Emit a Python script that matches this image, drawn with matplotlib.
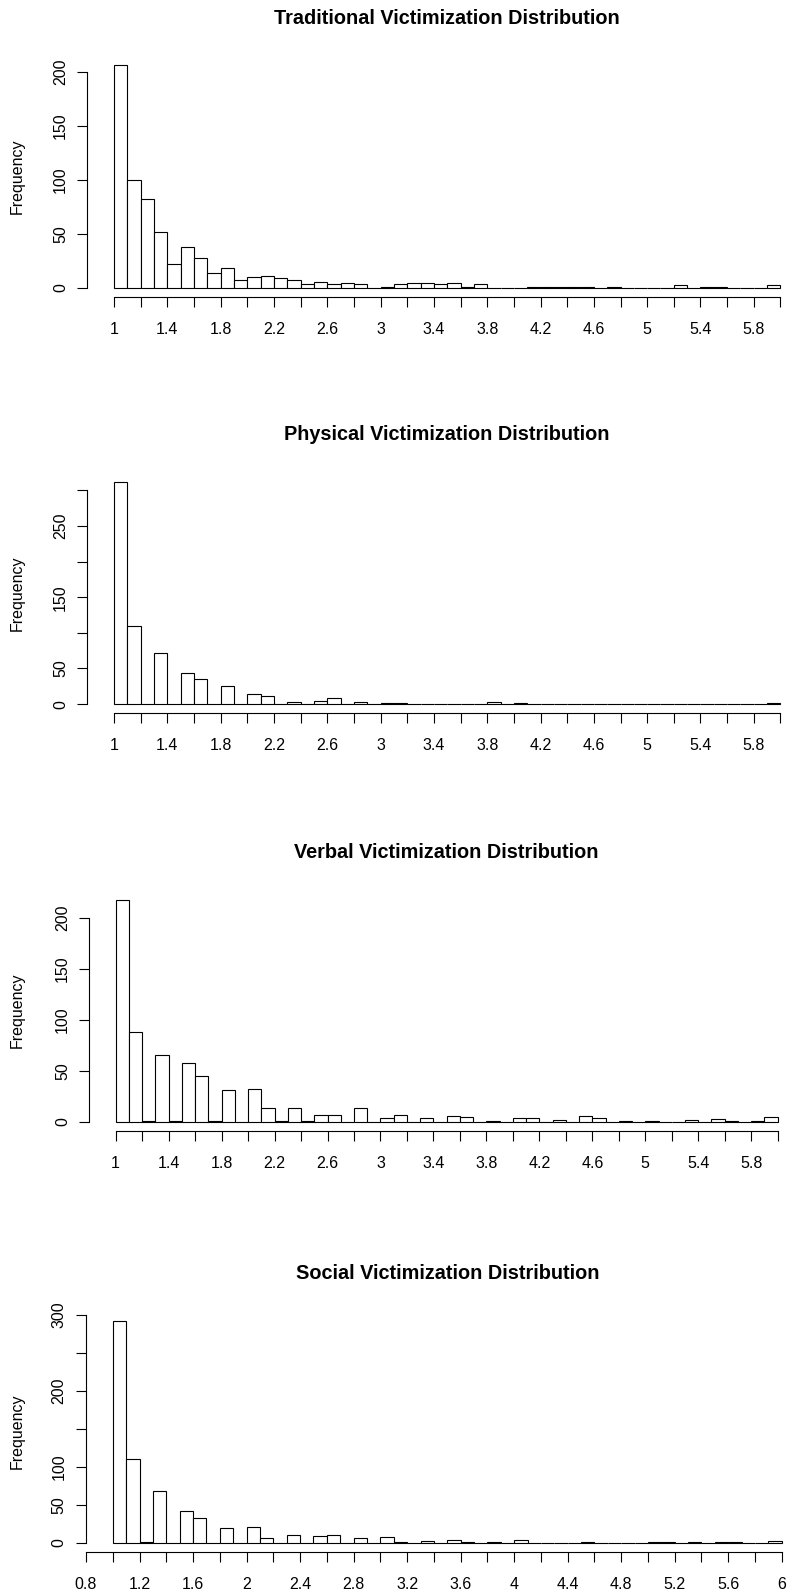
import numpy as np
import matplotlib
matplotlib.use("Agg")
import matplotlib.pyplot as plt

plt.rcParams['font.family'] = ['Liberation Sans', 'DejaVu Sans']

# ---- data ----
bin_edges = np.round(np.arange(1.0, 6.0001, 0.1), 1)

titles = ["Traditional Victimization Distribution",
          "Physical Victimization Distribution",
          "Verbal Victimization Distribution",
          "Social Victimization Distribution"]

traditional_counts = [206, 100, 82, 52, 22, 38, 27, 14, 18, 7,
                      10, 11, 9, 7, 3, 5, 3, 4, 3, 0,
                      1, 3, 4, 4, 3, 4, 1, 3, 0, 0,
                      0, 1, 1, 1, 1, 1, 0, 1, 0, 0,
                      0, 0, 2, 0, 1, 1, 0, 0, 0, 2]

physical_counts = [312, 109, 0, 72, 0, 43, 35, 0, 26, 0,
                   14, 11, 0, 3, 0, 4, 9, 0, 3, 0,
                   1, 1, 0, 0, 0, 0, 0, 0, 3, 0,
                   1, 0, 0, 0, 0, 0, 0, 0, 0, 0,
                   0, 0, 0, 0, 0, 0, 0, 0, 0, 1]

verbal_counts = [218, 88, 1, 66, 1, 58, 45, 1, 31, 0,
                 32, 14, 1, 14, 1, 7, 7, 0, 14, 0,
                 4, 7, 0, 4, 0, 6, 5, 0, 1, 0,
                 4, 4, 0, 2, 0, 6, 4, 0, 1, 0,
                 1, 0, 0, 2, 0, 3, 1, 0, 1, 5]

social_counts = [292, 110, 1, 68, 0, 42, 32, 0, 19, 0,
                 21, 6, 0, 10, 0, 9, 10, 0, 6, 0,
                 8, 1, 0, 2, 0, 4, 1, 0, 1, 0,
                 4, 0, 0, 0, 0, 1, 0, 0, 0, 0,
                 1, 1, 0, 1, 0, 1, 1, 0, 0, 2]

all_counts = [traditional_counts, physical_counts, verbal_counts, social_counts]

# y ticks and which of them carry a label
y_ticks = [[0, 50, 100, 150, 200],
           [0, 50, 100, 150, 200, 250, 300],
           [0, 50, 100, 150, 200],
           [0, 50, 100, 150, 200, 250, 300]]
y_labels = [["0", "50", "100", "150", "200"],
            ["0", "50", "", "150", "", "250", ""],
            ["0", "50", "100", "150", "200"],
            ["0", "50", "100", "", "200", "", "300"]]

# x ticks
x_ticks_main = list(np.round(np.arange(1.0, 6.0001, 0.2), 1))
x_labels_main = ["1", "", "1.4", "", "1.8", "", "2.2", "", "2.6", "", "3", "",
                 "3.4", "", "3.8", "", "4.2", "", "4.6", "", "5", "", "5.4", "",
                 "5.8", ""]
x_ticks_social = list(np.round(np.arange(0.8, 6.0001, 0.2), 1))
x_labels_social = ["0.8", "", "1.2", "", "1.6", "", "2", "", "2.4", "", "2.8", "",
                   "3.2", "", "3.6", "", "4", "", "4.4", "", "4.8", "", "5.2", "",
                   "5.6", "", "6"]
x_ticks = [x_ticks_main, x_ticks_main, x_ticks_main, x_ticks_social]
x_labels = [x_labels_main, x_labels_main, x_labels_main, x_labels_social]

# ---- layout (pixels) ----
W, H = 788, 1596
DPI = 100
fig = plt.figure(figsize=(W / DPI, H / DPI), dpi=DPI)
fig.patch.set_facecolor('white')

panel_left = [87.3, 87.3, 89.2, 86.0]      # pixel of x=0.8
panel_scale = [133.3, 133.3, 132.4, 133.8]  # pixels per unit
panel_bottom = [296.5, 713.0, 1130.7, 1551.7]
plot_h = 240.0

px2pt = 72.0 / DPI
fs_tick = 16 * px2pt
fs_title = 19.9 * px2pt
lw = 0.8

for i in range(4):
    L = panel_left[i]
    s = panel_scale[i]
    B = panel_bottom[i]
    wpx = 5.4 * s
    ax = fig.add_axes([L / W, (H - B) / H, wpx / W, plot_h / H])
    counts = np.array(all_counts[i])
    M = counts.max()
    ax.set_xlim(0.8, 6.2)
    ax.set_ylim(-0.04 * M, 1.04 * M)
    ax.set_facecolor('none')

    ax.bar(bin_edges[:-1], counts, width=0.1, align='edge',
           facecolor='white', edgecolor='black', linewidth=lw)

    for side in ('top', 'right'):
        ax.spines[side].set_visible(False)
    ax.spines['bottom'].set_bounds(x_ticks[i][0], x_ticks[i][-1])
    ax.spines['left'].set_bounds(y_ticks[i][0], y_ticks[i][-1])
    for side in ('bottom', 'left'):
        ax.spines[side].set_linewidth(lw)
        ax.spines[side].set_color('black')

    ax.set_xticks(x_ticks[i], x_labels[i], va='baseline')
    ax.set_yticks(y_ticks[i], y_labels[i], rotation=90,
                  rotation_mode='anchor', ha='center', va='baseline')
    ax.tick_params(axis='both', direction='out', length=10 * px2pt,
                   width=lw, color='black', labelsize=fs_tick,
                   labelcolor='black')
    ax.tick_params(axis='x', pad=27 * px2pt)
    ax.tick_params(axis='y', pad=12.3 * px2pt)

    ax.set_title(titles[i], fontsize=fs_title, fontweight='bold',
                 pad=33.0 * px2pt, va='baseline')
    ax.set_ylabel("Frequency", fontsize=fs_tick, va='baseline')
    ax.yaxis.set_label_coords((21.5 - L) / wpx, 0.5)

fig.savefig("out.png", dpi=DPI, facecolor='white')
